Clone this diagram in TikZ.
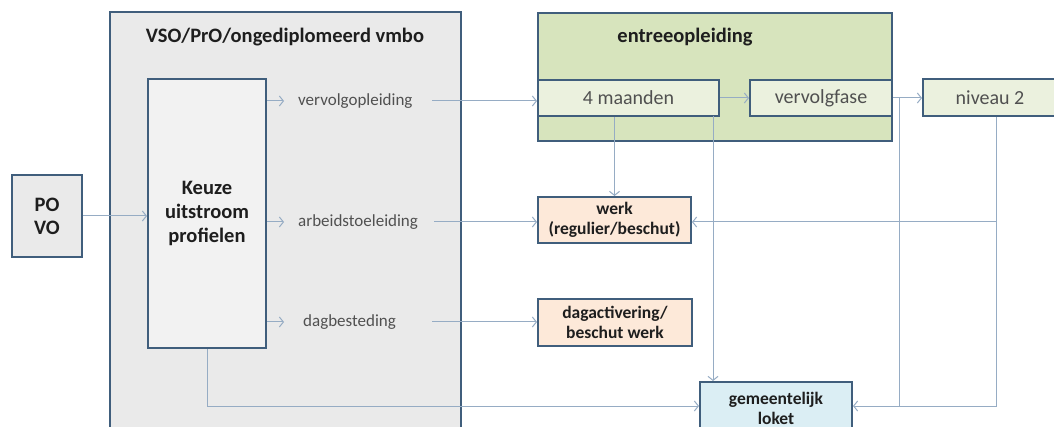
\documentclass[tikz,border=0pt]{standalone}
\usepackage{fontspec}
\setmainfont{Carlito}
\usetikzlibrary{arrows.meta}
\definecolor{bordc}{RGB}{64,94,124}
\definecolor{linec}{RGB}{150,172,196}
\definecolor{vsofill}{RGB}{234,234,234}
\definecolor{keuzefill}{RGB}{242,242,242}
\definecolor{entfill}{RGB}{215,228,189}
\definecolor{subfill}{RGB}{235,241,222}
\definecolor{peach}{RGB}{253,233,217}
\definecolor{loketfill}{RGB}{219,238,244}
\definecolor{labc}{RGB}{80,80,80}
\definecolor{titc}{RGB}{30,30,30}
\tikzset{
  box/.style={draw=bordc, line width=2pt, inner sep=0pt, align=center},
  ttl/.style={font=\fontsize{20.5}{24}\selectfont\bfseries, text=titc, inner sep=0pt},
  subbox/.style={box, fill=subfill, font=\fontsize{20}{24}\selectfont, text=labc},
  smallbox/.style={box, font=\fontsize{17.5}{20}\selectfont\bfseries, text=titc},
  lab/.style={font=\fontsize{17}{20}\selectfont, text=labc, inner sep=0pt, anchor=west},
  conn/.style={draw=linec, line width=1pt},
  arr/.style={conn, -{Straight Barb[length=4pt,width=10pt]}}
}
\begin{document}
\begin{tikzpicture}[x=1pt,y=-1pt]
\useasboundingbox[fill=white] (0,0) rectangle (1054,427);
% containers
\node[box, fill=vsofill, minimum width=351pt, minimum height=428pt] (vso) at (285.5,226) {};
\node[ttl] (vsot) at (285,37) {VSO/PrO/ongediplomeerd vmbo};
\node[box, fill=entfill, minimum width=354pt, minimum height=128pt] (ent) at (715,77) {};
\node[ttl] (entt) at (685,37) {entreeopleiding};
% boxes
\node[box, fill=vsofill, minimum width=70pt, minimum height=82pt, font=\fontsize{20.5}{23}\selectfont\bfseries, text=titc] (po) at (47,216) {PO\\VO};
\node[box, fill=keuzefill, minimum width=118pt, minimum height=269pt, font=\fontsize{20.5}{24}\selectfont\bfseries, text=titc] (keuze) at (207,213.5) {Keuze\\uitstroom\\profielen};
\node[subbox, minimum width=181pt, minimum height=36pt] (m4) at (628.5,98) {4 maanden};
\node[subbox, minimum width=142pt, minimum height=36pt] (vf) at (821,98) {vervolgfase};
\node[subbox, minimum width=134pt, minimum height=37pt] (niv) at (990,98) {niveau 2};
\node[smallbox, fill=peach, minimum width=153pt, minimum height=46pt] (werk) at (614.5,220) {werk\\(regulier/beschut)};
\node[smallbox, fill=peach, minimum width=154pt, minimum height=47pt] (dag) at (615,322.5) {dagactivering/\\beschut werk};
\node[smallbox, fill=loketfill, minimum width=152pt, minimum height=52pt] (loket) at (776,408) {gemeentelijk\\loket};
% labels
\node[lab] (l1) at (298,101) {vervolgopleiding};
\node[lab] (l2) at (298,222) {arbeidstoeleiding};
\node[lab] (l3) at (303,322) {dagbesteding};
% coordinates
\coordinate (s1) at (432,101);
\coordinate (s2) at (434,222);
\coordinate (s3) at (432,322);
\coordinate (v1) at (713,116);
\coordinate (j1) at (899,98);
\coordinate (n1) at (996,117);
\coordinate (n2) at (996,406);
\coordinate (n3) at (996,222);
% connectors
\draw[arr] (po.east) -- (po.east -| keuze.west);
\draw[arr] (l1.west -| keuze.east) -- ++(17,0);
\draw[arr] (l2.west -| keuze.east) -- ++(17,0);
\draw[arr] (l3.west -| keuze.east) -- ++(17,0);
\draw[arr] (s1) -- (s1 -| m4.west);
\draw[arr] (s2) -- (s2 -| werk.west);
\draw[arr] (s3) -- (s3 -| dag.west);
\draw[arr] (m4.east) -- (vf.west);
\draw[arr] (vf.east) -- (niv.west);
\draw[arr] (werk.north |- m4.south) -- (werk.north);
\draw[arr] (v1) -- (v1 |- loket.north);
\draw[conn] (j1) -- (j1 |- n2);
\draw[arr] (n1) -- (n2) -- (n2 -| loket.east);
\draw[arr] (n3) -- (n3 -| werk.east);
\draw[arr] (keuze.south) |- (n2 -| loket.west);
\end{tikzpicture}
\end{document}
